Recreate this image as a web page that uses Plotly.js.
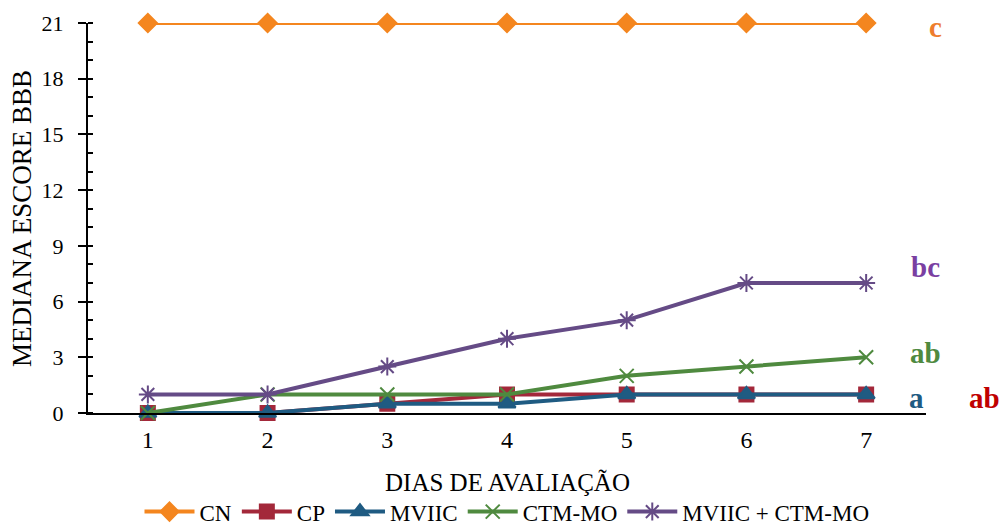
<!DOCTYPE html>
<html><head><meta charset="utf-8">
<script src="https://cdn.plot.ly/plotly-3.0.1.min.js"></script>
<style>html,body{margin:0;padding:0;background:#fff}#c{width:1000px;height:527px}</style>
</head><body><div id="c"></div>
<script>
const dias = [1,2,3,4,5,6,7];
const CN = [21,21,21,21,21,21,21];
const CP = [0,0,0.5,1,1,1,1];
const MVIIC = [0,0,0.5,0.5,1,1,1];
const CTM_MO = [0,1,1,1,2,2.5,3];
const MVIIC_CTM = [1,1,2.5,4,5,7,7];
const yTicks = [0,3,6,9,12,15,18,21];
const letters = ['c','bc','ab','a','ab'];
const letterY = [20.8,7.85,3.25,0.8,0.8];
const xTitle = 'DIAS DE AVALIAÇÃO';
const yTitle = 'MEDIANA ESCORE BBB';

const F = 'Liberation Serif';
function tr(name, y, color, symbol, size){
  return {x:dias, y:y, name:name, type:'scatter', mode:'lines+markers', cliponaxis:false,
    line:{color:color, width:4}, marker:{color:color, symbol:symbol, size:size,
    line:{color:color, width:2}}};
}
const data = [
  tr('CN', CN, '#F4861F', 'diamond', 14),
  tr('CP', CP, '#A3283A', 'square', 14),
  tr('MVIIC', MVIIC, '#1F5B82', 'triangle-up', 15),
  tr('CTM-MO', CTM_MO, '#4F8A3F', 'x-thin', 14),
  tr('MVIIC + CTM-MO', MVIIC_CTM, '#654B86', 'asterisk', 15)
];
const lColors = ['#EE7D2E','#7A3FA2','#4F8A3F','#1F5B82','#C00000'];
const lX = [1.011, 0.999, 0.999, 0.989, 1.07];
const annotations = letters.map((t,i)=>({x:lX[i], y:letterY[i], xref:'paper', yref:'y', text:'<b>'+t+'</b>',
  showarrow:false, font:{family:F, size:29, color:lColors[i]}, xanchor:'center', yanchor:'middle'}));
annotations.push({x:0.5, y:-0.177, xref:'paper', yref:'paper', text:xTitle, showarrow:false,
  font:{family:F, size:25, color:'#000'}, xanchor:'center', yanchor:'middle'});
annotations.push({x:-0.0788, y:0.5, xref:'paper', yref:'paper', text:yTitle, showarrow:false, textangle:-90,
  font:{family:F, size:27, color:'#000'}, xanchor:'center', yanchor:'middle'});

const layout = {
  width:1000, height:527,
  margin:{l:88, r:74, t:23, b:114, autoexpand:false},
  paper_bgcolor:'#fff', plot_bgcolor:'#fff',
  font:{family:F, size:22, color:'#000'},
  showlegend:true,
  legend:{orientation:'h', x:0.5, xanchor:'center', y:-0.253, yanchor:'middle', font:{family:F, size:23}, itemwidth:50, tracegroupgap:0},
  xaxis:{range:[0.5,7.5], tickvals:dias, showgrid:false, zeroline:false, showline:true, linecolor:'#000', linewidth:2,
    ticks:'', tickfont:{family:F, size:24}, ticklabelstandoff:4, automargin:false},
  yaxis:{range:[0,21], tickvals:yTicks, showgrid:false, zeroline:false, showline:true, linecolor:'#000', linewidth:2,
    ticks:'outside', ticklen:8, tickwidth:2, tickcolor:'#000', tickfont:{family:F, size:22}, ticklabelstandoff:10, automargin:false,
    minor:{dtick:1, ticks:'inside', ticklen:5, tickwidth:2, tickcolor:'#000'}},
  annotations:annotations
};
Plotly.newPlot('c', data, layout, {displayModeBar:false, staticPlot:true});
</script>
</body></html>
